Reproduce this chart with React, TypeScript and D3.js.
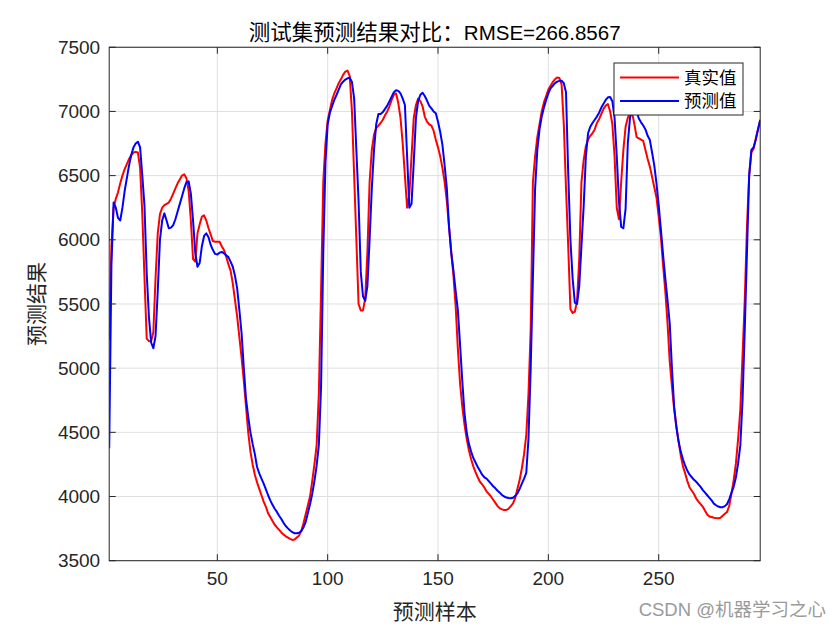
import React from "react";
import * as d3 from "d3";

const trueValues: number[] = [
  5220, 5950, 6250, 6320, 6370, 6440, 6500, 6550, 6590, 6630,
  6660, 6680, 6685, 6680, 6560, 6200, 5700, 5230, 5210, 5210,
  5280, 5700, 6050, 6200, 6250, 6270, 6280, 6290, 6320, 6360,
  6400, 6440, 6470, 6500, 6510, 6480, 6380, 6150, 5850, 5830,
  6050, 6120, 6180, 6190, 6150, 6090, 6040, 5990, 5985, 5985,
  5985, 5950, 5920, 5870, 5810, 5760, 5660, 5530, 5400, 5240,
  5080, 4900, 4700, 4500, 4350, 4250, 4170, 4110, 4060, 4010,
  3960, 3920, 3870, 3840, 3810, 3780, 3760, 3740, 3720, 3705,
  3690, 3680, 3670, 3662, 3665, 3680, 3695, 3730, 3790, 3860,
  3930, 4000, 4120, 4250, 4400, 4800, 5600, 6450, 6750, 6930,
  7010, 7090, 7140, 7180, 7220, 7250, 7285, 7310, 7318, 7275,
  7000, 6500, 6000, 5500, 5450, 5450, 5540, 5900, 6450, 6700,
  6820, 6870, 6890, 6910, 6935, 6970, 7000, 7040, 7090, 7130,
  7140, 7065, 6950, 6750, 6500, 6250, 6350, 6650, 6950, 7050,
  7100, 7080, 7040, 6960, 6920, 6900, 6890, 6850, 6780, 6720,
  6650, 6560, 6450, 6300, 6100, 5900, 5720, 5480, 5150, 4880,
  4700, 4560, 4450, 4360, 4290, 4235, 4190, 4150, 4115, 4095,
  4070, 4040, 4020, 4000, 3975, 3950, 3925, 3908, 3900, 3895,
  3895, 3905, 3925, 3947, 3990, 4060, 4130, 4220, 4330, 4480,
  4800, 5300, 6450, 6650, 6800, 6900, 7000, 7070, 7120, 7170,
  7200, 7230, 7250, 7265, 7260, 7210, 6900, 6400, 5950, 5460,
  5430, 5440, 5520, 5850, 6450, 6620, 6730, 6780, 6810, 6830,
  6860, 6910, 6940, 6980, 7020, 7045, 7058, 7000, 6900, 6650,
  6250, 6160, 6450, 6700, 6880, 6950, 6990, 6985, 6900, 6800,
  6790, 6780, 6770, 6700, 6630, 6570, 6490, 6410, 6330, 6180,
  6020, 5800, 5600, 5350, 5050, 4860, 4680, 4550, 4430, 4320,
  4235, 4180, 4120, 4070, 4045, 4020, 3985, 3960, 3940, 3920,
  3890, 3860, 3845, 3840, 3835, 3832, 3830, 3835, 3850, 3865,
  3880, 3930, 4025, 4130, 4260, 4450, 4680, 5100, 5530, 6100,
  6500, 6680, 6710, 6790, 6860, 6930,
];

const predValues: number[] = [
  4376, 5800, 6290, 6250, 6170, 6150, 6250, 6380, 6480, 6580,
  6660, 6720, 6750, 6764, 6720, 6500, 6260, 5740, 5400, 5200,
  5155, 5250, 5600, 6000, 6150, 6206, 6150, 6090, 6095, 6115,
  6160, 6220, 6280, 6340, 6400, 6450, 6455, 6360, 6150, 5900,
  5790, 5820, 5950, 6030, 6050, 6020, 5960, 5920, 5890, 5885,
  5900, 5905, 5895, 5880, 5865, 5830, 5790, 5720, 5620, 5450,
  5270, 5000, 4760, 4620, 4500, 4410, 4330, 4230, 4180, 4140,
  4100, 4055, 4010, 3970, 3935, 3905, 3880, 3850, 3825, 3795,
  3770, 3752, 3735, 3722, 3714, 3714, 3718, 3730, 3758, 3800,
  3870, 3940, 4020, 4120, 4240, 4400, 4850, 5900, 6600, 6900,
  6990, 7040, 7090, 7128, 7170, 7210, 7232, 7248, 7258, 7262,
  7230, 7100, 6700, 6300, 5750, 5560, 5525, 5640, 6000, 6400,
  6700, 6900, 6980, 6980, 6995, 7020, 7045, 7080, 7115, 7150,
  7165, 7160, 7140, 7100, 7050, 6650, 6250, 6280, 6600, 6950,
  7080, 7130, 7146, 7120, 7085, 7045, 7024, 7000, 6985, 6920,
  6840, 6740, 6580, 6400, 6100, 5900, 5760, 5600, 5450, 5180,
  4900, 4650, 4500, 4410, 4350, 4300, 4265, 4230, 4200, 4170,
  4150, 4140, 4120, 4100, 4080, 4064, 4045, 4030, 4012, 4000,
  3992, 3988, 3986, 3990, 4005, 4025, 4060, 4100, 4140, 4185,
  4450, 5000, 5700, 6400, 6700, 6860, 6960, 7030, 7090, 7140,
  7180, 7200, 7220, 7232, 7238, 7240, 7220, 7150, 6520, 6000,
  5700, 5510, 5500, 5640, 5950, 6260, 6650, 6830, 6880, 6910,
  6935, 6960, 6990, 7030, 7060, 7090, 7110, 7112, 7080, 6950,
  6650, 6300, 6100, 6090, 6240, 6750, 6950, 7010, 7020, 7000,
  6945, 6915, 6890, 6860, 6810, 6777, 6680, 6580, 6440, 6270,
  6080, 5880, 5700, 5530, 5350, 5000, 4700, 4540, 4430, 4350,
  4290, 4240, 4200, 4170, 4150, 4130, 4115, 4095, 4075, 4050,
  4030, 4010, 3990, 3970, 3945, 3932, 3922, 3917, 3917, 3925,
  3942, 3980, 4030, 4077, 4150, 4260, 4400, 4750, 5300, 5900,
  6500, 6700, 6720, 6780, 6860, 6935,
];

const xTicks: number[] = [50, 100, 150, 200, 250];
const yTicks: number[] = [3500, 4000, 4500, 5000, 5500, 6000, 6500, 7000, 7500];
const seriesNames: string[] = ["真实值", "预测值"];
const seriesColors: string[] = ["#ff0000", "#0000ff"];
const titleCjk = "测试集预测结果对比：";
const titleLatin = "RMSE=266.8567";
const xLabelText = "预测样本";
const yLabelText = "预测结果";
const watermark = "CSDN @机器学习之心";

const W = 840;
const H = 630;
const L = 109.2;
const R = 760.2;
const T = 47.25;
const B = 560.7;

const latin = "'Liberation Sans', Arial, Helvetica, sans-serif";
const cjk = "'Noto Sans CJK SC', 'Liberation Sans', sans-serif";
const axisColor = "#262626";

export default function App() {
  const n = trueValues.length;
  const x = d3.scaleLinear().domain([1, n]).range([L, R]);
  const y = d3.scaleLinear().domain([3500, 7500]).range([B, T]);
  const line = d3
    .line<number>()
    .x((_, i) => x(i + 1))
    .y((d) => y(d));
  const series = [trueValues, predValues];
  const tickLen = 6.5;

  const legX = 614;
  const legY = 63;
  const legW = 129;
  const legH = 52;

  return (
    <svg
      width={W}
      height={H}
      style={{ position: "fixed", left: 0, top: 0, background: "#fff" }}
    >
      <rect x={0} y={0} width={W} height={H} fill="#fff" />
      <defs>
        <clipPath id="plotclip">
          <rect x={L} y={T} width={R - L} height={B - T} />
        </clipPath>
      </defs>
      {xTicks.map((t) => (
        <line key={"gx" + t} x1={x(t)} x2={x(t)} y1={T} y2={B} stroke="#dfdfdf" strokeWidth={1} />
      ))}
      {yTicks.map((t) => (
        <line key={"gy" + t} x1={L} x2={R} y1={y(t)} y2={y(t)} stroke="#dfdfdf" strokeWidth={1} />
      ))}
      <g clipPath="url(#plotclip)">
        {series.map((s, i) => (
          <path
            key={"s" + i}
            d={line(s) || ""}
            fill="none"
            stroke={seriesColors[i]}
            strokeWidth={2}
            strokeLinejoin="round"
          />
        ))}
      </g>
      <rect x={L} y={T} width={R - L} height={B - T} fill="none" stroke={axisColor} strokeWidth={1} />
      {xTicks.map((t) => (
        <g key={"tx" + t}>
          <line x1={x(t)} x2={x(t)} y1={B} y2={B - tickLen} stroke={axisColor} />
          <line x1={x(t)} x2={x(t)} y1={T} y2={T + tickLen} stroke={axisColor} />
          <text
            x={x(t)}
            y={B + 24}
            textAnchor="middle"
            fontFamily={latin}
            fontSize={19}
            fill={axisColor}
          >
            {t}
          </text>
        </g>
      ))}
      {yTicks.map((t) => (
        <g key={"ty" + t}>
          <line x1={L} x2={L + tickLen} y1={y(t)} y2={y(t)} stroke={axisColor} />
          <line x1={R} x2={R - tickLen} y1={y(t)} y2={y(t)} stroke={axisColor} />
          <text
            x={L - 9}
            y={y(t)}
            dy="0.35em"
            textAnchor="end"
            fontFamily={latin}
            fontSize={19}
            fill={axisColor}
          >
            {t}
          </text>
        </g>
      ))}
      <text
        x={(L + R) / 2}
        y={40}
        textAnchor="middle"
        fontFamily={cjk}
        fontSize={21.5}
        fill="#000"
      >
        <tspan>{titleCjk}</tspan>
        <tspan fontFamily={latin} fontSize={20.5}>{titleLatin}</tspan>
      </text>
      <text
        x={(L + R) / 2}
        y={619}
        textAnchor="middle"
        fontFamily={cjk}
        fontSize={21}
        fill={axisColor}
      >
        {xLabelText}
      </text>
      <text
        transform={`translate(${44},${(T + B) / 2}) rotate(-90)`}
        textAnchor="middle"
        fontFamily={cjk}
        fontSize={21}
        fill={axisColor}
      >
        {yLabelText}
      </text>
      <rect x={legX} y={legY} width={legW} height={legH} fill="#fff" stroke={axisColor} strokeWidth={1} />
      {seriesNames.map((name, i) => {
        const cy = legY + 14.5 + i * 23.5;
        return (
          <g key={"leg" + i}>
            <line x1={legX + 6} x2={legX + 65} y1={cy} y2={cy} stroke={seriesColors[i]} strokeWidth={2} />
            <text
              x={legX + 70}
              y={cy}
              dy="0.36em"
              fontFamily={cjk}
              fontSize={17.5}
              fill="#000"
            >
              {name}
            </text>
          </g>
        );
      })}
      <text
        x={826}
        y={616}
        textAnchor="end"
        fontFamily={cjk}
        fontSize={18.5}
        fill="#9a9a9a"
      >
        <tspan fontFamily={latin}>CSDN @</tspan>
        <tspan>{watermark.slice(6)}</tspan>
      </text>
    </svg>
  );
}
